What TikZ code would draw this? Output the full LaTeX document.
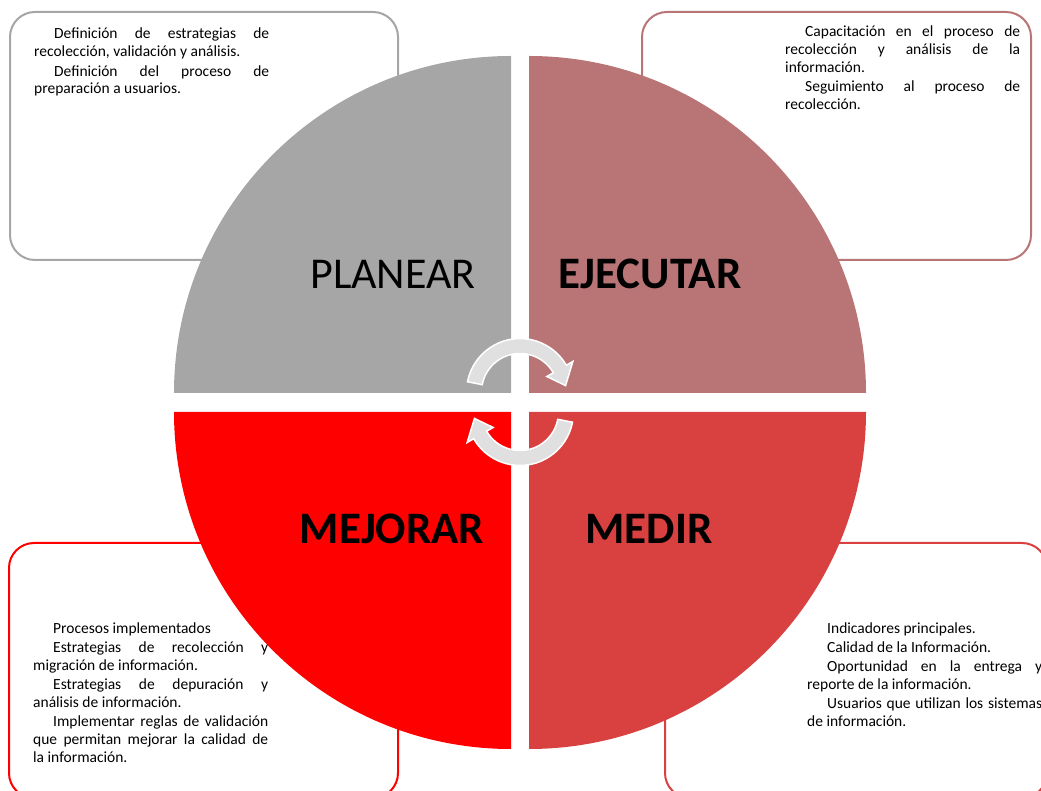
\documentclass[tikz,border=0pt]{standalone}
\usepackage{fontspec}
\setmainfont{Carlito}
\usepackage{tikz}
\usetikzlibrary{positioning}
\definecolor{planeargray}{HTML}{A6A6A6}
\definecolor{ejecutarrose}{HTML}{B97575}
\definecolor{medirred}{HTML}{D94040}
\definecolor{mejorarred}{HTML}{FF0000}
\definecolor{cyclefill}{HTML}{E0E0E0}

\begin{document}
\begin{tikzpicture}[
        x=1pt, y=1pt,
        infobox/.style={rounded corners=25pt, line width=2pt},
        phase/.style={anchor=base, inner sep=0pt,
          font=\fontsize{44}{50}\selectfont},
        boldphase/.style={phase, font=\fontsize{45}{50}\selectfont\bfseries},
        notes/.style={anchor=base west, inner sep=0pt, text width=235pt,
          align=justify, font=\fontsize{15.5}{17.8}\selectfont,
          execute at begin node={\setlength{\parindent}{20pt}%
            \setlength{\parskip}{1.5pt}\tolerance=10000\hbadness=10000%
            \hyphenpenalty=10000\hspace*{20pt}}},
        cyc/.style={fill=cyclefill, draw=white, line width=1.5pt},
      ]
        \useasboundingbox (0,0) rectangle (1041,790);

        % boxes behind the circle
        \draw[infobox, draw=planeargray]  (10,530) rectangle (398,778);
        \draw[infobox, draw=ejecutarrose] (642,530) rectangle (1031,778);
        \draw[infobox, draw=mejorarred]   (9,247) rectangle (398,-8);
        \draw[infobox, draw=medirred]     (665,247) rectangle (1047,-8);

        % quarters
        \fill[planeargray]  (511,397) -- (174,397)
          arc[start angle=180, end angle=90, radius=337] -- cycle;
        \fill[ejecutarrose] (529,397) -- (529,734)
          arc[start angle=90, end angle=0, radius=337] -- cycle;
        \fill[mejorarred]   (511,378) -- (511,41)
          arc[start angle=-90, end angle=-180, radius=337] -- cycle;
        \fill[medirred]     (529,378) -- (866,378)
          arc[start angle=0, end angle=-90, radius=337] -- cycle;

        \node[phase] (planear)  at (393,501) {PLANEAR};
        \node[boldphase] (ejecutar) at (650,501) {EJECUTAR};
        \node[boldphase] (mejorar)  at (392,246) {MEJORAR};
        \node[boldphase] (medir)    at (649,246) {MEDIR};

        % cycle arrows
        \begin{scope}[shift={(520,398)}]
          \filldraw[cyc] (169:53.5)
            arc[start angle=169, end angle=30, radius=53.5]
            -- (30:61) -- (8:46) -- (30:31) -- (30:38.5)
            arc[start angle=30, end angle=169, radius=38.5] -- cycle;
        \end{scope}
        \begin{scope}[shift={(520,378)}, rotate=180]
          \filldraw[cyc] (169:53.5)
            arc[start angle=169, end angle=30, radius=53.5]
            -- (30:61) -- (8:46) -- (30:31) -- (30:38.5)
            arc[start angle=30, end angle=169, radius=38.5] -- cycle;
        \end{scope}

        \node[notes] (plannotes) at (34,751)
          {Definición de estrategias de\linebreak
           recolección, validación y análisis.\par
           Definición del proceso de\linebreak
           preparación a usuarios.};
        \node[notes] (execnotes) at (785,753)
          {Capacitación en el proceso de\linebreak
           recolección y análisis de la\linebreak
           información.\par
           Seguimiento al proceso de\linebreak
           recolección.};
        \node[notes] (improvenotes) at (33,157)
          {Procesos implementados\par
           Estrategias de recolección y\linebreak
           migración de información.\par
           Estrategias de depuración y\linebreak
           análisis de información.\par
           Implementar reglas de validación\linebreak
           que permitan mejorar la calidad de\linebreak
           la información.};
        \node[notes] (measurenotes) at (807,157)
          {Indicadores principales.\par
           Calidad de la Información.\par
           Oportunidad en la entrega y\linebreak
           reporte de la información.\par
           Usuarios que utilizan los sistemas\linebreak
           de información.};
      \end{tikzpicture}
\end{document}
